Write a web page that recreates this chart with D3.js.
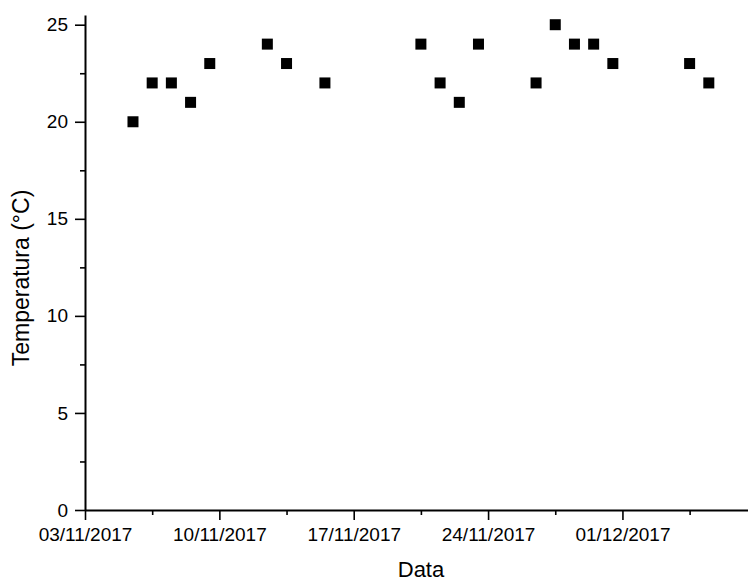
<!DOCTYPE html>
<html><head><meta charset="utf-8">
<script src="https://cdn.jsdelivr.net/npm/d3@7"></script>
<style>
body{margin:0;background:#fff;}
svg{display:block;font-family:"Liberation Sans",Arial,sans-serif;}
</style></head>
<body>
<svg id="c" width="748" height="581"></svg>
<script>
// Data (dates at noon, DD/MM/YYYY)
const dates = ["05/11/2017","06/11/2017","07/11/2017","08/11/2017","09/11/2017","12/11/2017","13/11/2017","15/11/2017",
  "20/11/2017","21/11/2017","22/11/2017","23/11/2017","26/11/2017","27/11/2017","28/11/2017","29/11/2017","30/11/2017",
  "04/12/2017","05/12/2017"];
const temps = [20,22,22,21,23,24,23,22,24,22,21,24,22,25,24,24,23,23,22];
const xTickLabels = ["03/11/2017","10/11/2017","17/11/2017","24/11/2017","01/12/2017"];
const yTicks = [0,5,10,15,20,25];
const yMinorTicks = [2.5,7.5,12.5,17.5,22.5];
const xTitle = "Data";
const yTitle = "Temperatura (°C)";

const parse = d3.timeParse("%d/%m/%Y");
const fmt = d3.timeFormat("%d/%m/%Y");
const points = dates.map((d,i)=>({date:d3.timeHour.offset(parse(d),12), value:temps[i]}));
const xMajor = xTickLabels.map(parse);
const xMinor = xMajor.map(d=>d3.timeHour.offset(d,84));

const svg = d3.select("#c");
const mLeft=85, mRight=748, mTop=15, mBottom=510;
const x = d3.scaleTime().domain([parse("03/11/2017"), d3.timeHour.offset(parse("07/12/2017"),13)]).range([mLeft,mRight]);
const y = d3.scaleLinear().domain([0,25.5]).range([mBottom,mTop]);

// minor ticks
svg.append("g").attr("transform",`translate(0,${mBottom})`)
  .call(d3.axisBottom(x).tickValues(xMinor).tickSize(5).tickFormat(""))
  .call(g=>g.select(".domain").remove())
  .call(g=>g.selectAll("line").attr("stroke","#000").attr("stroke-width",1.6));
svg.append("g").attr("transform",`translate(${mLeft},0)`)
  .call(d3.axisLeft(y).tickValues(yMinorTicks).tickSize(5).tickFormat(""))
  .call(g=>g.select(".domain").remove())
  .call(g=>g.selectAll("line").attr("stroke","#000").attr("stroke-width",1.6));

// major axes
const xAxis = svg.append("g").attr("transform",`translate(0,${mBottom})`)
  .call(d3.axisBottom(x).tickValues(xMajor).tickFormat(fmt).tickSize(10).tickSizeOuter(0).tickPadding(8));
const yAxis = svg.append("g").attr("transform",`translate(${mLeft},0)`)
  .call(d3.axisLeft(y).tickValues(yTicks).tickSize(10).tickSizeOuter(0).tickPadding(7));
[xAxis,yAxis].forEach(g=>{
  g.select(".domain").attr("stroke","#000").attr("stroke-width",2);
  g.selectAll("line").attr("stroke","#000").attr("stroke-width",1.6);
  g.selectAll("text").attr("fill","#000").attr("font-size",19).attr("font-family","Liberation Sans, Arial, sans-serif");
});

// points
const s=11;
svg.append("g").selectAll("rect").data(points).join("rect")
  .attr("x",d=>x(d.date)-s/2).attr("y",d=>y(d.value)-s/2)
  .attr("width",s).attr("height",s).attr("fill","#000");

// titles
svg.append("text").attr("x",421).attr("y",577).attr("text-anchor","middle")
  .attr("font-size",22).attr("fill","#000").text(xTitle);
svg.append("text").attr("transform","translate(29,278) rotate(-90)").attr("text-anchor","middle")
  .attr("font-size",23).attr("fill","#000").text(yTitle);
</script>
</body></html>
